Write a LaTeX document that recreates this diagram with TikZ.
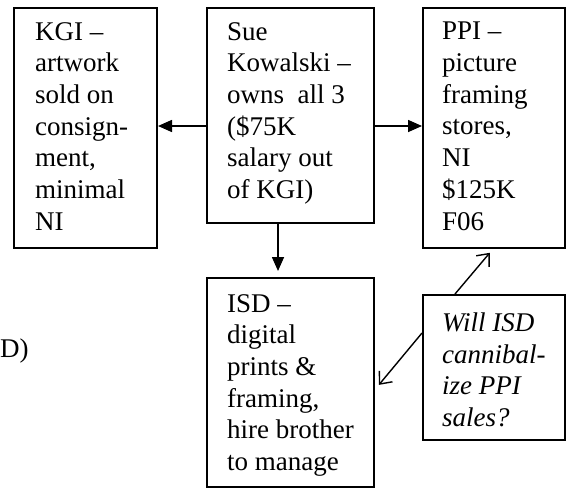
\documentclass[tikz,border=0pt]{standalone}
\usepackage{fontspec}
\setmainfont{Liberation Serif}
\usetikzlibrary{arrows.meta}
\begin{document}
\begin{tikzpicture}[x=1pt,y=-1pt,
  box/.style={draw, line width=2pt, anchor=north west, inner sep=0pt},
  txt/.style={anchor=north west, align=left, inner sep=0pt, font=\fontsize{27}{31.7}\selectfont},
  solidarrow/.style={line width=1.6pt, -{Triangle[length=14pt,width=12pt]}},
  openarrow/.style={line width=1.4pt, -{Straight Barb[length=10pt,width=17pt]}}
]
\useasboundingbox (0,0) rectangle (567,487);
% boxes
\node[box, minimum width=143pt, minimum height=240pt] (kgi) at (13,7) {};
\node[box, minimum width=167pt, minimum height=215pt] (sue) at (206,7) {};
\node[box, minimum width=142pt, minimum height=240pt] (ppi) at (422,7) {};
\node[box, minimum width=167pt, minimum height=209pt] (isd) at (206,277) {};
\node[box, minimum width=142pt, minimum height=145pt] (q) at (422,294) {};
% texts
\node[txt] (kgitext) at (35,22) {KGI --\\artwork\\sold on\\consign-\\ment,\\minimal\\NI};
\node[txt] (suetext) at (227,22) {Sue\\Kowalski --\\owns\ \ all 3\\(\$75K\\salary out\\of KGI)};
\node[txt] (ppitext) at (442,22) {PPI --\\picture\\framing\\stores,\\NI\\\$125K\\F06};
\node[txt] (isdtext) at (227,294) {ISD --\\digital\\prints \&\\framing,\\hire brother\\to manage};
\node[txt, font=\fontsize{27}{31.7}\selectfont\itshape] (qtext) at (442,312.5) {Will ISD\\cannibal-\\ize PPI\\sales?};
\node[txt, anchor=base west] (side) at (0,357) {D)};
% connectors
\draw[solidarrow] (sue.west |- 0,126) -- (kgi.east |- 0,126);
\draw[solidarrow] (sue.east |- 0,126) -- (ppi.west |- 0,126);
\draw[solidarrow, shorten >=6pt] (sue.south -| 278,0) -- (isd.north -| 278,0);
\draw[openarrow, shorten >=5pt] (q.north -| 455,0) -- (ppi.south -| 493,0);
\draw[openarrow, shorten >=6pt] (q.west |- 0,333) -- (isd.east |- 0,389.5);
\end{tikzpicture}
\end{document}
